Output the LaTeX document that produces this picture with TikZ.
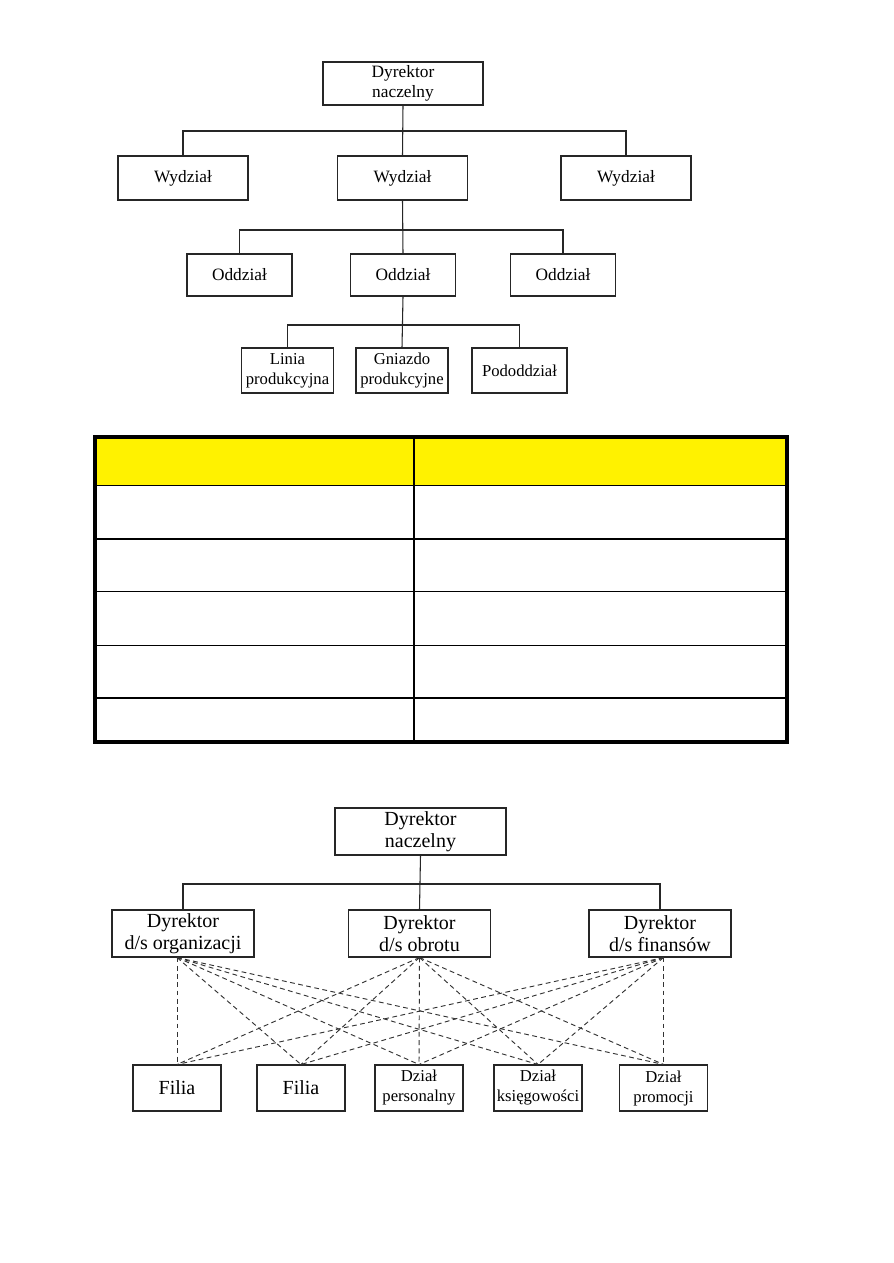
\documentclass[tikz,border=0pt]{standalone}
\usepackage{fontspec}
\setmainfont{Liberation Serif}
\usetikzlibrary{calc}
\begin{document}
\begin{tikzpicture}[x=0.75pt,y=-0.75pt,
  box/.style={draw=black!85, line width=0.8pt, inner sep=0pt, align=center, text=black},
  topf/.style={font=\fontsize{13}{15}\selectfont},
  dnA/.style={box, topf, minimum width=120pt, minimum height=32.25pt},
  wyd/.style={box, topf, minimum width=97.5pt, minimum height=33pt},
  odd/.style={box, topf, minimum width=78.75pt, minimum height=31.5pt},
  low/.style={box, font=\fontsize{12.5}{15}\selectfont, minimum width=69pt, minimum height=33.75pt},
  dnB/.style={box, font=\fontsize{15}{16.5}\selectfont, minimum width=128.25pt, minimum height=35.25pt},
  dir/.style={box, font=\fontsize{15}{16.5}\selectfont, minimum width=106.5pt, minimum height=35.25pt},
  unit/.style={box, font=\fontsize{12.5}{15}\selectfont, minimum width=66pt, minimum height=34.5pt},
  conn/.style={draw=black!85, line width=0.8pt},
  dconn/.style={draw=black!80, line width=0.7pt, dash pattern=on 3.6pt off 2.6pt},
  tline/.style={draw=black, line width=1.1pt},
  tframe/.style={draw=black, line width=2.6pt}
  ]
\useasboundingbox (0,0) rectangle (893,1263);
\fill[white] (0,0) rectangle (893,1263);

% ---------- top chart ----------
\node[dnA] (dn1) at (403,83.5) {Dyrektor\\naczelny};
\node[wyd] (w1) at (183,178) {Wydział};
\node[wyd] (w2) at (402.5,178) {Wydział};
\node[wyd] (w3) at (626,178) {Wydział};
\node[odd] (o1) at (239.5,275) {Oddział};
\node[odd] (o2) at (403,275) {Oddział};
\node[odd] (o3) at (563,275) {Oddział};
\node[low] (l1) at (287.5,370.5) {Linia\\produkcyjna};
\node[low] (l2) at (402,370.5) {Gniazdo\\produkcyjne};
\node[low, minimum width=71.25pt] (l3) at (519.5,370.5) {Pododdział};

\coordinate (b1) at (403,131);
\coordinate (b2) at (403,230);
\coordinate (b3) at (403,325);

\draw[conn] (dn1.south) -- (w2.north);
\draw[conn] (w1.north) |- (b1);
\draw[conn] (w3.north) |- (b1);
\draw[conn] (w2.south) -- (o2.north);
\draw[conn] (o1.north) |- (b2);
\draw[conn] (o3.north) |- (b2);
\draw[conn] (o2.south) -- (l2.north);
\draw[conn] (l1.north) |- (b3);
\draw[conn] (l3.north) |- (b3);

% ---------- table ----------
\fill[yellow] (95,437) rectangle (787,485.5);
\draw[tline] (414,437) -- (414,742);
\foreach \yy in {485.5,539,591.3,645.3,698} {
  \draw[tline] (95,\yy) -- (787,\yy);
}
\draw[tframe] (95,437) rectangle (787,742);

% ---------- bottom chart ----------
\node[dnB] (dn2) at (420.5,831.5) {Dyrektor\\naczelny};
\node[dir] (d1) at (183,933.5) {Dyrektor\\d/s organizacji};
\node[dir] (d2) at (419.5,933.5) {Dyrektor\\d/s obrotu};
\node[dir] (d3) at (660,933.5) {Dyrektor\\d/s finansów};
\node[unit, font=\fontsize{15}{16.5}\selectfont] (f1) at (177,1088) {Filia};
\node[unit, font=\fontsize{15}{16.5}\selectfont] (f2) at (301,1088) {Filia};
\node[unit] (f3) at (419,1088) {Dział\\personalny};
\node[unit] (f4) at (538,1088) {Dział\\księgowości};
\node[unit] (f5) at (663.5,1088) {Dział\\promocji};

\coordinate (b4) at (420.5,884);
\draw[conn] (dn2.south) -- (d2.north);
\draw[conn] (d1.north) |- (b4);
\draw[conn] (d3.north) |- (b4);

\coordinate (s1) at (d1.south -| f1.north);
\coordinate (s2) at (d2.south);
\coordinate (s3) at (d3.south -| f5.north);
\foreach \s in {s1,s2,s3} {
  \foreach \t in {f1,f2,f3,f4,f5} {
    \draw[dconn] (\s) -- (\t.north);
  }
}
\end{tikzpicture}
\end{document}
